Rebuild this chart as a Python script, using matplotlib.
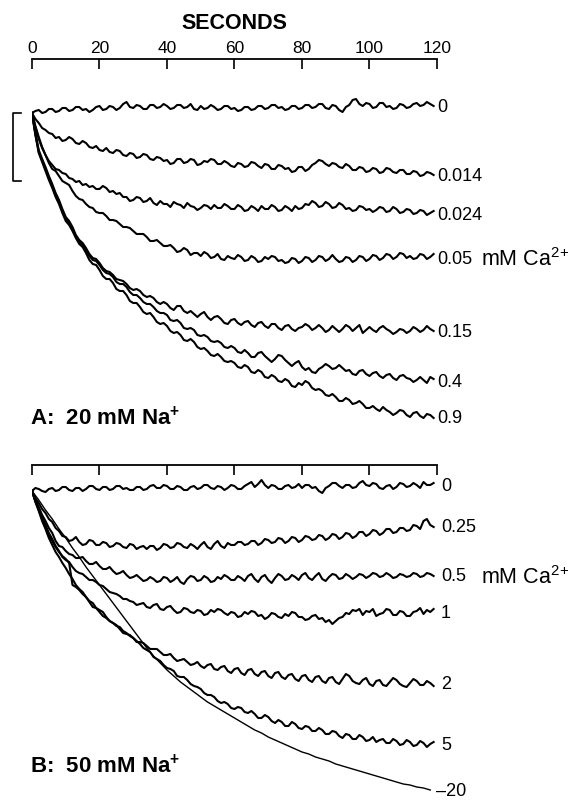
import matplotlib
matplotlib.use('Agg')
import matplotlib.pyplot as plt
import numpy as np

plt.rcParams['font.family'] = ['Liberation Sans', 'DejaVu Sans']
plt.rcParams['mathtext.fontset'] = 'custom'
plt.rcParams['mathtext.rm'] = 'Liberation Sans'
plt.rcParams['mathtext.bf'] = 'Liberation Sans:bold'

# recorded traces, one sample per second (the 20 mM fit: one per 2 s)
seconds = np.arange(0, 120)
seconds_fit = np.arange(0, 120, 2)
ticks = [0, 20, 40, 60, 80, 100, 120]

# ---- panel A: 20 mM Na+, signal decrease (arbitrary units, downward) ----
caA = ['0', '0.014', '0.024', '0.05', '0.15', '0.4', '0.9']
a_0 = [0, -2, -3, 0, -1, -4, -4, -1, -2, -5,
       -5, -2, -3, -6, -6, -3, -4, -1, -3, -6,
       -7, -3, -4, -7, -6, -3, -5, -9, -11, -6,
       -5, -8, -7, -4, -4, -8, -8, -5, -6, -9,
       -7, -4, -5, -8, -8, -5, -6, -9, -4, -3,
       -7, -4, -5, -8, -6, -3, -4, -7, -7, -4,
       -5, -2, -3, -6, -6, -3, -4, -7, -7, -4,
       -5, -8, -8, -5, -6, -3, -4, -7, -7, -4,
       -5, -8, -8, -5, -6, -9, -9, -5, -4, -8,
       -7, -3, -1, -6, -8, -13, -14, -9, -7, -10,
       -9, -5, -6, -10, -10, -6, -7, -4, -5, -9,
       -8, -5, -6, -9, -10, -7, -8, -11, -9, -7]
a_014 = [0, 6, 10, 15, 17, 20, 21, 25, 24, 28,
         27, 24, 26, 30, 31, 28, 30, 34, 35, 33,
         37, 38, 35, 39, 40, 37, 38, 42, 43, 40,
         41, 45, 44, 41, 42, 46, 47, 44, 45, 48,
         47, 51, 50, 46, 46, 50, 49, 46, 47, 52,
         51, 48, 49, 46, 47, 51, 51, 48, 50, 53,
         54, 50, 51, 54, 53, 49, 50, 53, 55, 51,
         52, 56, 56, 52, 53, 56, 55, 59, 58, 54,
         54, 58, 56, 52, 50, 47, 48, 51, 53, 50,
         51, 54, 55, 51, 53, 57, 57, 54, 55, 59,
         58, 55, 56, 60, 59, 55, 56, 59, 60, 57,
         57, 61, 61, 58, 59, 63, 62, 59, 60, 62]
a_024 = [0, 14, 26, 35, 42, 48, 52, 56, 57, 60,
         61, 65, 66, 69, 68, 72, 71, 74, 73, 76,
         76, 73, 75, 79, 78, 81, 80, 84, 84, 88,
         87, 84, 85, 89, 88, 85, 90, 92, 88, 91,
         91, 94, 89, 91, 92, 95, 90, 93, 94, 97,
         95, 92, 93, 96, 92, 95, 95, 91, 93, 96,
         96, 92, 94, 98, 97, 93, 95, 98, 93, 96,
         96, 92, 94, 98, 97, 93, 95, 98, 93, 96,
         95, 91, 92, 88, 90, 94, 93, 89, 91, 95,
         94, 90, 92, 96, 95, 98, 97, 93, 94, 97,
         96, 99, 97, 94, 95, 99, 98, 94, 96, 100,
         99, 96, 97, 101, 100, 97, 98, 102, 100, 98]
a_05 = [0, 13, 24, 34, 42, 50, 56, 58, 63, 68,
        70, 72, 78, 83, 86, 87, 91, 94, 95, 99,
        100, 100, 103, 107, 107, 108, 111, 114, 114, 115,
        118, 121, 121, 121, 124, 128, 128, 127, 130, 133,
        133, 132, 135, 139, 138, 135, 137, 142, 140, 140,
        143, 139, 141, 145, 144, 141, 146, 147, 143, 145,
        146, 142, 144, 148, 147, 143, 145, 149, 148, 144,
        146, 143, 144, 148, 147, 150, 149, 145, 146, 150,
        148, 144, 145, 149, 147, 143, 144, 148, 146, 142,
        146, 149, 148, 144, 145, 149, 147, 143, 144, 148,
        146, 142, 143, 147, 145, 141, 142, 146, 144, 140,
        141, 145, 143, 146, 145, 141, 142, 146, 144, 141]
a_15 = [0, 20, 37, 46, 54, 63, 71, 80, 87, 96,
        104, 108, 114, 122, 127, 130, 135, 141, 145, 146,
        150, 155, 158, 159, 162, 166, 167, 168, 171, 175,
        177, 176, 178, 182, 184, 183, 185, 189, 191, 189,
        191, 195, 197, 193, 193, 198, 200, 198, 201, 204,
        201, 199, 204, 207, 204, 203, 206, 210, 211, 207,
        206, 210, 212, 209, 208, 212, 214, 210, 209, 213,
        215, 211, 211, 215, 217, 213, 212, 216, 218, 215,
        214, 211, 213, 217, 215, 212, 215, 219, 217, 213,
        216, 219, 216, 212, 214, 218, 215, 212, 220, 217,
        214, 217, 219, 215, 213, 216, 218, 221, 219, 216,
        217, 220, 218, 214, 216, 219, 217, 213, 216, 218]
a_4 = [0, 21, 39, 47, 56, 65, 73, 82, 89, 98,
       106, 110, 116, 124, 129, 132, 137, 143, 147, 148,
       152, 157, 160, 161, 164, 169, 171, 171, 174, 179,
       182, 182, 185, 189, 191, 191, 194, 198, 200, 200,
       202, 207, 208, 207, 210, 215, 216, 215, 217, 222,
       223, 222, 224, 228, 229, 228, 230, 234, 235, 233,
       235, 239, 240, 237, 240, 244, 244, 240, 239, 243,
       246, 249, 246, 242, 243, 247, 250, 253, 250, 248,
       254, 257, 255, 259, 260, 256, 254, 251, 253, 256,
       255, 252, 255, 258, 257, 261, 262, 258, 257, 261,
       263, 260, 259, 263, 265, 262, 261, 265, 267, 263,
       262, 265, 266, 269, 267, 264, 267, 270, 264, 266]
a_9 = [0, 22, 40, 49, 58, 67, 75, 84, 91, 100,
       108, 112, 118, 125, 131, 134, 140, 147, 151, 152,
       157, 163, 166, 166, 170, 176, 178, 178, 182, 188,
       190, 190, 194, 199, 201, 200, 204, 209, 211, 210,
       213, 218, 220, 219, 222, 227, 228, 226, 229, 234,
       236, 235, 238, 242, 243, 241, 244, 248, 249, 248,
       250, 254, 255, 252, 254, 259, 260, 257, 259, 264,
       265, 262, 264, 268, 269, 266, 268, 273, 274, 270,
       272, 268, 270, 275, 277, 276, 278, 282, 283, 281,
       284, 288, 288, 285, 287, 291, 290, 288, 291, 295,
       295, 293, 296, 298, 294, 297, 299, 302, 300, 297,
       298, 302, 304, 300, 299, 303, 305, 301, 302, 305]
tracesA = [a_0, a_014, a_024, a_05, a_15, a_4, a_9]

# ---- panel B: 50 mM Na+ ----
caB = ['0', '0.25', '0.5', '1', '2', '5']
b_0 = [0, -3, -2, 0, 1, -2, -3, 0, -1, -4,
       -4, -1, 0, -3, -3, 0, -2, -5, -5, -2,
       -1, -4, -4, -1, -2, -5, -5, -2, -3, -1,
       -1, -4, -4, -1, -2, -5, -6, -3, -3, -6,
       -5, -2, -2, -5, -4, -1, -1, -4, -5, -2,
       -3, -6, -6, -3, -2, -5, -4, -1, -3, -6,
       -5, -2, -2, -5, -7, -9, -4, -7, -11, -6,
       -3, -6, -5, -2, -2, -5, -6, -3, -4, -7,
       -3, -6, -6, -3, -4, 0, 2, -3, -5, -8,
       -8, -5, -3, -6, -6, -3, -4, -8, -10, -6,
       -5, -8, -7, -3, -2, -5, -6, -2, -4, -8,
       -7, -4, -5, -8, -6, -3, -9, -6, -6, -8]
b_25 = [0, 7, 12, 18, 22, 28, 31, 37, 40, 45,
        46, 50, 49, 46, 51, 54, 53, 49, 50, 54,
        54, 51, 52, 56, 55, 52, 53, 56, 57, 53,
        54, 58, 56, 55, 58, 55, 55, 59, 57, 53,
        54, 57, 56, 52, 53, 56, 57, 53, 55, 58,
        54, 51, 56, 58, 53, 50, 55, 57, 52, 54,
        54, 51, 51, 54, 53, 50, 50, 54, 52, 48,
        49, 52, 51, 47, 48, 52, 50, 46, 47, 51,
        49, 45, 46, 49, 48, 44, 45, 49, 47, 43,
        44, 48, 46, 42, 43, 47, 45, 41, 41, 45,
        43, 39, 40, 44, 42, 38, 38, 42, 41, 37,
        37, 40, 39, 34, 35, 38, 30, 28, 34, 36]
b_5 = [0, 9, 16, 24, 30, 37, 42, 50, 55, 56,
       60, 63, 64, 67, 67, 66, 70, 73, 73, 71,
       75, 78, 78, 76, 80, 83, 82, 80, 84, 87,
       86, 84, 87, 90, 89, 86, 88, 91, 90, 86,
       87, 91, 89, 86, 91, 93, 88, 85, 86, 90,
       89, 85, 87, 91, 90, 86, 88, 84, 86, 89,
       89, 85, 87, 90, 85, 83, 88, 91, 86, 84,
       89, 92, 87, 83, 85, 89, 88, 84, 86, 89,
       84, 82, 87, 89, 85, 82, 88, 90, 86, 83,
       84, 88, 87, 83, 85, 88, 86, 83, 84, 87,
       85, 82, 83, 86, 85, 82, 84, 87, 86, 83,
       84, 86, 85, 82, 83, 86, 85, 82, 83, 85]
b_1 = [0, 10, 18, 27, 34, 42, 48, 55, 60, 66,
       69, 71, 76, 80, 82, 83, 86, 89, 89, 91,
       94, 95, 98, 101, 102, 103, 105, 108, 108, 110,
       111, 114, 113, 112, 116, 117, 114, 113, 118, 119,
       116, 115, 119, 122, 121, 117, 118, 121, 122, 119,
       120, 124, 123, 119, 121, 118, 119, 122, 124, 121,
       122, 126, 125, 121, 123, 120, 121, 125, 124, 128,
       126, 122, 123, 126, 127, 123, 125, 121, 122, 126,
       126, 129, 128, 125, 124, 128, 127, 131, 129, 133,
       130, 127, 126, 122, 123, 119, 120, 118, 124, 120,
       121, 118, 125, 123, 122, 118, 119, 124, 124, 120,
       121, 125, 125, 121, 120, 117, 123, 119, 121, 118]
b_2 = [0, 11, 20, 30, 38, 47, 54, 61, 66, 72,
       77, 83, 88, 94, 98, 101, 106, 110, 112, 117,
       119, 121, 126, 130, 132, 134, 138, 142, 143, 144,
       147, 151, 151, 152, 155, 158, 158, 158, 161, 164,
       164, 163, 167, 170, 169, 168, 171, 174, 173, 171,
       175, 177, 174, 173, 178, 179, 176, 175, 180, 182,
       178, 177, 182, 184, 179, 178, 183, 185, 181, 180,
       185, 187, 182, 181, 186, 188, 184, 183, 188, 190,
       185, 184, 189, 191, 186, 185, 190, 192, 187, 186,
       191, 193, 188, 183, 185, 190, 192, 193, 189, 187,
       193, 195, 190, 189, 194, 195, 191, 187, 189, 193,
       195, 196, 192, 188, 190, 194, 194, 190, 192, 195]
b_5mm = [0, 10, 19, 28, 36, 44, 50, 56, 61, 65,
         68, 72, 94, 96, 99, 103, 106, 111, 116, 117,
         121, 125, 127, 130, 132, 135, 136, 140, 142, 145,
         147, 150, 153, 157, 159, 161, 166, 168, 170, 174,
         177, 178, 180, 185, 186, 186, 189, 193, 195, 196,
         198, 202, 204, 204, 206, 210, 212, 211, 213, 217,
         218, 216, 217, 221, 222, 220, 223, 227, 227, 224,
         226, 230, 232, 229, 231, 235, 235, 231, 233, 237,
         238, 235, 236, 240, 240, 237, 239, 243, 243, 240,
         241, 245, 247, 243, 244, 248, 248, 244, 246, 250,
         249, 246, 251, 249, 248, 252, 252, 248, 250, 254,
         253, 249, 251, 255, 254, 250, 252, 256, 253, 251]
tracesB = [b_0, b_25, b_5, b_1, b_2, b_5mm]
# 20 mM Ca2+: smooth curve
b_20 = [0, 9, 19, 28, 38, 47, 57, 66, 76, 85,
        94, 103, 112, 121, 130, 139, 148, 157, 165, 172,
        179, 185, 191, 196, 201, 206, 211, 215, 219, 223,
        227, 231, 235, 239, 242, 246, 249, 252, 255, 258,
        261, 263, 266, 268, 270, 273, 275, 277, 279, 281,
        283, 285, 287, 289, 291, 293, 294, 296, 297, 299]

W, H = 577, 802
fig = plt.figure(figsize=(W / 100, H / 100), dpi=100)

def px_axes(top, bottom):
    return fig.add_axes([32 / W, 1 - bottom / H, 405 / W, (bottom - top) / H])

def style_axis(ax, labels):
    for s in ['left', 'right', 'bottom']:
        ax.spines[s].set_visible(False)
    ax.spines['top'].set_linewidth(1.3)
    ax.set_xlim(0, 120)
    ax.xaxis.tick_top()
    ax.set_xticks(ticks)
    ax.tick_params(axis='x', direction='in', length=7, width=1.2, pad=2,
                   labelsize=12.5, labeltop=labels)
    ax.set_yticks([])
    ax.set_facecolor('none')

# panel A
axA = px_axes(59, 430)
style_axis(axA, True)
axA.set_ylim(317, -54)
axA.xaxis.set_label_position('top')
axA.set_xlabel('SECONDS', fontsize=15.5, fontweight='bold', labelpad=9)
for lab, tr in zip(caA, tracesA):
    axA.plot(seconds, tr, color='black', lw=1.5)
    axA.text(seconds[-1] + 1.2, np.mean(tr[-8:]) + 3, lab, fontsize=13, va='center', ha='left')
axA.text(seconds[-1] + 14, np.mean(a_05[-8:]) + 3, 'mM Ca$^{2\\!+}$', fontsize=15.5,
         va='center', ha='left')
axA.text(-0.6, 305, 'A:  20 mM Na$^{\\mathbf{+}}$', fontsize=16, fontweight='bold',
         va='center', ha='left')

# calibration bracket
bar = 68
axA.plot([-3.3, -5.6, -5.6, -3.3], [0, 0, bar, bar], color='black', lw=1.2, clip_on=False)

# panel B
axB = px_axes(465, 800)
style_axis(axB, False)
axB.set_ylim(309, -26)
for lab, tr in zip(caB, tracesB):
    axB.plot(seconds, tr, color='black', lw=1.5)
    axB.text(seconds[-1] + 2.2, np.mean(tr[-8:]) + 2, lab, fontsize=13, va='center', ha='left')
axB.plot(seconds_fit, b_20, color='black', lw=1.0)
axB.text(seconds_fit[-1] + 1.7, b_20[-1] + 2, '\u201320', fontsize=13, va='center', ha='left')
axB.text(seconds[-1] + 14, np.mean(b_5[-8:]) + 3, 'mM Ca$^{2\\!+}$', fontsize=15.5,
         va='center', ha='left')
axB.text(-0.6, 275, 'B:  50 mM Na$^{\\mathbf{+}}$', fontsize=16, fontweight='bold',
         va='center', ha='left')

fig.savefig('out.png', dpi=100, facecolor='white')
